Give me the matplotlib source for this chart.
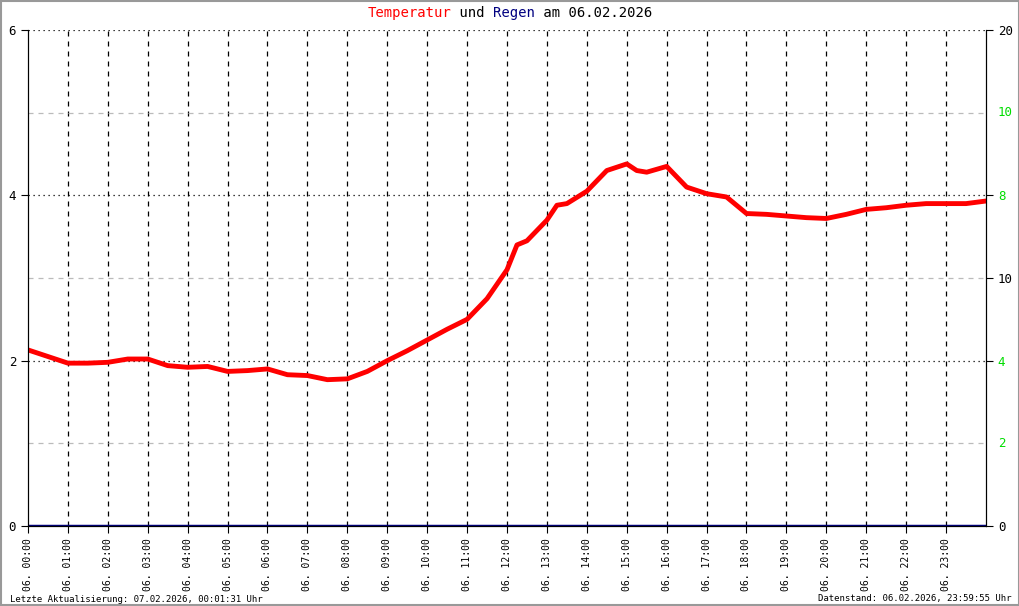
import matplotlib.pyplot as plt

# temperature readings, time in hours
hours = [0, 0.5, 1, 1.5, 2, 2.5, 3, 3.5, 4, 4.5, 5, 5.5, 6, 6.5, 7, 7.5, 8, 8.5,
         9, 9.5, 10, 10.5, 11, 11.5, 12, 12.25, 12.5, 13, 13.25, 13.5, 14, 14.5,
         15, 15.25, 15.5, 16, 16.5, 17, 17.5, 18, 18.5, 19, 19.5, 20, 20.5, 21,
         21.5, 22, 22.5, 23, 23.5, 23.98]
temp = [2.13, 2.05, 1.97, 1.97, 1.98, 2.02, 2.02, 1.94, 1.92, 1.93, 1.87, 1.88,
        1.90, 1.83, 1.82, 1.77, 1.78, 1.87, 2.0, 2.12, 2.25, 2.38, 2.5, 2.75,
        3.1, 3.4, 3.45, 3.7, 3.88, 3.9, 4.05, 4.3, 4.38, 4.3, 4.28, 4.35, 4.1,
        4.02, 3.98, 3.78, 3.77, 3.75, 3.73, 3.72, 3.77, 3.83, 3.85, 3.88, 3.9,
        3.9, 3.9, 3.93]
xlabels = ["06. %02d:00" % h for h in range(24)]
right_ticks = [6, 4, 3, 2, 0]
right_labels = ["20", "8", "10", "4", "0"]
right_colors = ["black", "#00dd00", "black", "#00dd00", "black"]
green_extra = {5: "10", 1: "2"}

mono = "DejaVu Sans Mono"
fig = plt.figure(figsize=(10.2, 6.06), dpi=100)
ax = fig.add_axes([28 / 1020, 1 - 526 / 606, 958 / 1020, 496 / 606])
ax.set_xlim(0, 24)
ax.set_ylim(0, 6)

for h in range(1, 24):
    ax.axvline(h, color="black", ls=(0, (4, 4)), lw=0.9)
for y in (2, 4, 6):
    ax.axhline(y, color="black", ls=(0, (1, 3)), lw=0.9)
for y in (1, 3, 5):
    ax.axhline(y, color="#bbbbbb", ls=(0, (4, 4)), lw=0.9)

ax.plot(hours, temp, color="red", lw=3.5)
ax.axhline(0, color="#000080", lw=2.5)

ax.set_xticks(range(24))
ax.set_xticklabels(xlabels, rotation=90, family=mono, fontsize=7)
ax.set_yticks([0, 2, 4, 6])
ax.set_yticklabels(["0", "2", "4", "6"], family=mono, fontsize=9)
ax.tick_params(length=5)

ax2 = ax.twinx()
ax2.set_ylim(0, 6)
ax2.set_yticks(right_ticks)
ax2.set_yticklabels(right_labels, family=mono, fontsize=9)
for lbl, c in zip(ax2.get_yticklabels(), right_colors):
    lbl.set_color(c)
ax2.tick_params(length=5)
for y, s in green_extra.items():
    ax2.text(24.3, y, s, color="#00dd00", family=mono, fontsize=9,
             va="center", ha="left")

for a in (ax, ax2):
    a.spines["top"].set_visible(False)

parts = [("Temperatur", "red"), (" und ", "black"), ("Regen", "#000080"),
         (" am 06.02.2026", "black")]
fs = 10
full = "".join(p[0] for p in parts)
cw = 0.602 * fs * 100 / 72 / 1020
x0 = 0.5 - len(full) * cw / 2
for s, c in parts:
    fig.text(x0, 1 - 13 / 606, s, color=c, family=mono, fontsize=fs,
             va="center", ha="left")
    x0 += len(s) * cw

fig.text(10 / 1020, 1 - 599 / 606, "Letzte Aktualisierung: 07.02.2026, 00:01:31 Uhr",
         family=mono, fontsize=6.5, va="center")
fig.text(1012 / 1020, 1 - 599 / 606, "Datenstand: 06.02.2026, 23:59:55 Uhr",
         family=mono, fontsize=6.5, va="center", ha="right")

fig.patches.append(plt.Rectangle((0.001, 0.001), 0.998, 0.998, fill=False,
                                 edgecolor="#999999", lw=1.5,
                                 transform=fig.transFigure))
fig.savefig("out.png", dpi=100)
